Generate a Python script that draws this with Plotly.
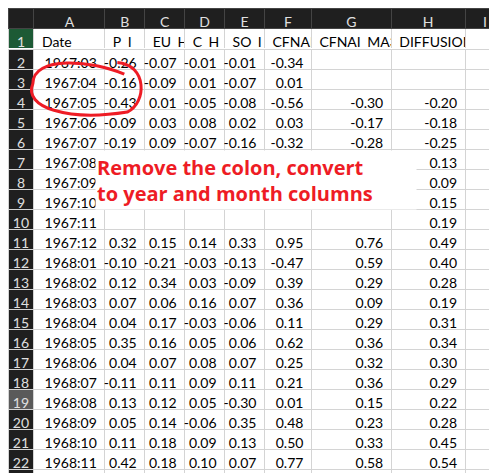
import plotly.graph_objects as go

# Spreadsheet contents (rows 2-23)
dates = ["1967:03", "1967:04", "1967:05", "1967:06", "1967:07", "1967:08", "1967:09",
         "1967:10", "1967:11", "1967:12", "1968:01", "1968:02", "1968:03", "1968:04",
         "1968:05", "1968:06", "1968:07", "1968:08", "1968:09", "1968:10", "1968:11", "1968:12"]
p_i = [-0.26, -0.16, -0.43, -0.09, -0.19, None, None, None, None, 0.32, -0.10, 0.12, 0.07,
       0.04, 0.35, 0.04, -0.11, 0.13, 0.05, 0.11, 0.42, -0.01]
eu_h = [-0.07, -0.09, 0.01, 0.03, 0.09, None, None, None, None, 0.15, -0.21, 0.34, 0.06,
        0.17, 0.16, 0.07, 0.11, 0.12, 0.14, 0.18, 0.18, 0.15]
c_h = [-0.01, 0.01, -0.05, 0.08, -0.07, None, None, None, None, 0.14, -0.03, 0.03, 0.16,
       -0.03, 0.05, 0.08, 0.09, 0.05, -0.06, 0.09, 0.10, -0.04]
so_i = [-0.01, -0.07, -0.08, 0.02, -0.16, None, None, None, None, 0.33, -0.13, -0.09, 0.07,
        -0.06, 0.06, 0.07, 0.11, -0.30, 0.35, 0.13, 0.07, -0.11]
cfnai = [-0.34, 0.01, -0.56, 0.03, -0.32, None, None, None, None, 0.95, -0.47, 0.39, 0.36,
         0.11, 0.62, 0.25, 0.21, 0.01, 0.48, 0.50, 0.77, 0.00]
cfnai_ma3 = [None, None, -0.30, -0.17, -0.28, None, None, None, None, 0.76, 0.59, 0.29, 0.09,
             0.29, 0.36, 0.32, 0.36, 0.15, 0.23, 0.33, 0.58, 0.42]
diffusion = [None, None, -0.20, -0.18, -0.25, 0.13, 0.09, 0.15, 0.19, 0.49, 0.40, 0.28, 0.19,
             0.31, 0.34, 0.30, 0.29, 0.22, 0.28, 0.45, 0.54, 0.44]
col_letters = ["", "A", "B", "C", "D", "E", "F", "G", "H", "I"]
col_titles = ["1", "Date", "P_I", "EU_H", "C_H", "SO_I", "CFNAI", "CFNAI_MA3", "DIFFUSION", ""]


def fmt(v):
    return "" if v is None else f"{v:.2f}"


n = len(dates)
row_nums = [str(i) for i in range(2, n + 2)]
columns = [row_nums, dates]
for series in [p_i, eu_h, c_h, so_i, cfnai, cfnai_ma3, diffusion]:
    columns.append([fmt(v) for v in series])
columns.append([""] * n)

DARK = "#1f1f1f"
GRID = "#d4d4d4"
FONT = "Lato"
widths = [26, 71, 40, 40, 40, 40, 47, 80, 74, 40]
split = 1 - 41 / 473

# top: column letters + title row
fig = go.Figure(go.Table(
    columnwidth=widths,
    header=dict(values=col_letters, fill_color=DARK, height=20,
                line=dict(color="#444444", width=1),
                font=dict(family=FONT, size=14, color="#e0e0e0"), align="center"),
    cells=dict(values=[[t] for t in col_titles],
               fill_color=[["#1d5a35"]] + [["white"]] * 9, height=20,
               line=dict(color=GRID, width=1),
               font=dict(family=FONT, size=14, color=[["#e0e0e0"]] + [["black"]] * 9),
               align=["center"] + ["left"] * 9),
    domain=dict(x=[0, 1], y=[split, 1]),
))

# bottom: data rows, first data row used as the table header
num_fill = [DARK] * (n - 1)
num_fill[16] = "#5a5a5a"
fig.add_trace(go.Table(
    columnwidth=widths,
    header=dict(values=[c[0] for c in columns], fill_color=[DARK] + ["white"] * 9, height=20,
                line=dict(color=GRID, width=1),
                font=dict(family=FONT, size=14, color=["#e0e0e0"] + ["black"] * 9),
                align=["center"] + ["right"] * 9),
    cells=dict(values=[c[1:] for c in columns],
               fill_color=[num_fill] + [["white"] * (n - 1)] * 9, height=20,
               line=dict(color=GRID, width=1),
               font=dict(family=FONT, size=14, color=[["#e0e0e0"] * (n - 1)] + [["black"] * (n - 1)] * 9),
               align=["center"] + ["right"] * 9),
    domain=dict(x=[0, 1], y=[0, split]),
))

fig.add_annotation(
    x=87 / 497, y=1 - 142 / 473, xref="paper", yref="paper", xanchor="left", yanchor="top",
    text="<b>Remove the colon, convert<br>to year and month columns</b>",
    showarrow=False, align="left", bgcolor="white", width=318, height=56,
    font=dict(family="Open Sans", size=20, color="#ee1c25"),
)
fig.add_shape(type="path", xref="paper", yref="paper", layer="above",
              path="M 0.234,0.86 C 0.17,0.89 0.05,0.9 0.05,0.84 C 0.03,0.79 0.12,0.76 0.24,0.78 "
                   "C 0.28,0.8 0.28,0.88 0.22,0.885",
              line=dict(color="#ee1c25", width=3))

fig.update_layout(width=497, height=473, margin=dict(l=0, r=0, t=0, b=0),
                  paper_bgcolor="white")
fig.write_html("out.html")
